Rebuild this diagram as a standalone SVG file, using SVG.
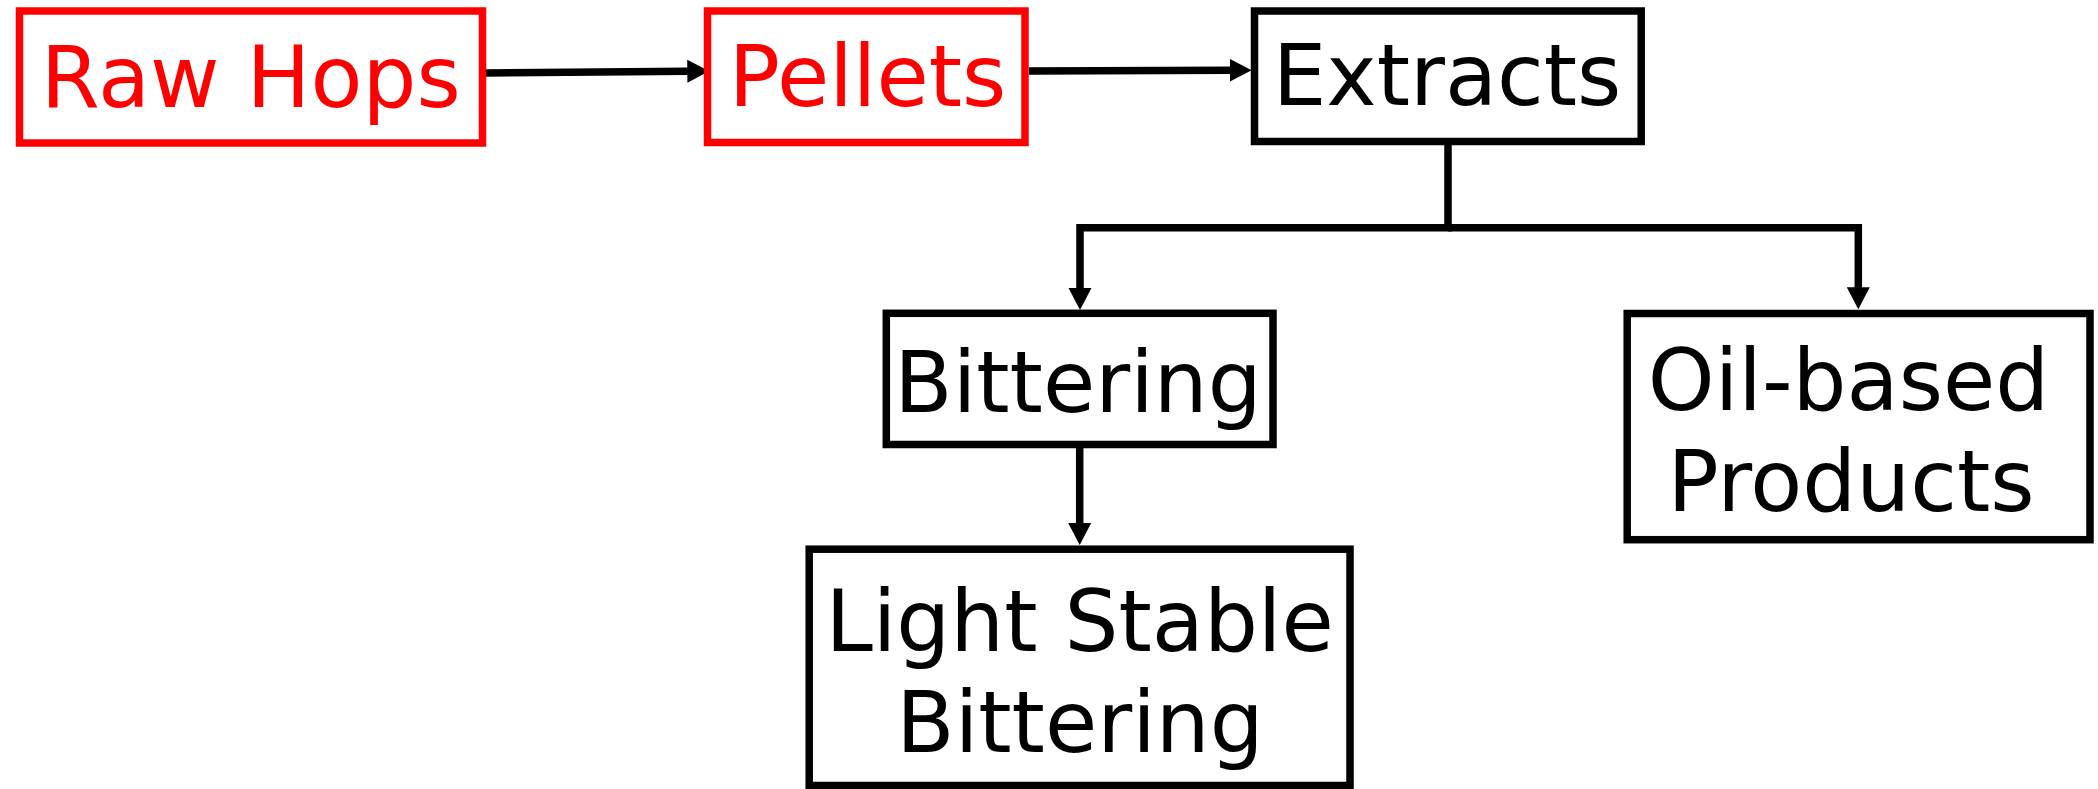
<svg xmlns="http://www.w3.org/2000/svg" width="2098" height="789" viewBox="0 0 2098 789">
  <defs>
    <style>
      .box { fill: #ffffff; stroke: #000000; stroke-width: 7.5; }
      .box.red { stroke: #ff0000; }
      .lbl { font-family: "DejaVu Sans", Verdana, sans-serif; font-size: 85px; text-anchor: middle; fill: #000000; }
      .lbl.red { fill: #ff0000; }
      .edge { fill: none; stroke: #000000; stroke-width: 7.5; stroke-linejoin: miter; stroke-linecap: butt; }
    </style>
    <marker id="arrow" markerUnits="userSpaceOnUse" markerWidth="22" markerHeight="24" viewBox="0 0 22 24" refX="1" refY="12" orient="auto">
      <path d="M0,0.5 L22,12 L0,23.5 Z" fill="#000000"/>
    </marker>
  </defs>

  <rect x="0" y="0" width="2098" height="789" fill="#ffffff"/>

  <!-- connectors -->
  <g id="connectors">
    <path class="edge" d="M486,73 L688.3,71.3" marker-end="url(#arrow)"/>
    <path class="edge" d="M1029,71 L1230.6,70.3" marker-end="url(#arrow)"/>
    <path class="edge" d="M1448,141.5 V227.8 H1080 V289" marker-end="url(#arrow)"/>
    <path class="edge" d="M1448,227.8 H1858.3 V288.3" marker-end="url(#arrow)"/>
    <path class="edge" d="M1079.7,444.5 V524" marker-end="url(#arrow)"/>
  </g>

  <!-- nodes -->
  <g id="raw-hops">
    <rect class="box red" x="19.5" y="11" width="463" height="132"/>
    <text class="lbl red" x="250.8" y="106.5">Raw Hops</text>
  </g>

  <g id="pellets">
    <rect class="box red" x="707.5" y="11" width="317.5" height="131.5"/>
    <text class="lbl red" x="867.5" y="106">Pellets</text>
  </g>

  <g id="extracts">
    <rect class="box" x="1254.5" y="11" width="386.7" height="130.5"/>
    <text class="lbl" x="1447" y="104.5">Extracts</text>
  </g>

  <g id="bittering">
    <rect class="box" x="886.3" y="313.3" width="386.7" height="131.2"/>
    <text class="lbl" x="1078" y="412">Bittering</text>
  </g>

  <g id="oil-based-products">
    <rect class="box" x="1627.2" y="313.5" width="462.8" height="226.2"/>
    <text class="lbl" x="1848.5" y="409.5">Oil-based</text>
    <text class="lbl" x="1851" y="510.7">Products</text>
  </g>

  <g id="light-stable-bittering">
    <rect class="box" x="809.2" y="549.2" width="540.8" height="236.3"/>
    <text class="lbl" x="1079.6" y="651">Light Stable</text>
    <text class="lbl" x="1080" y="751.7">Bittering</text>
  </g>
</svg>
